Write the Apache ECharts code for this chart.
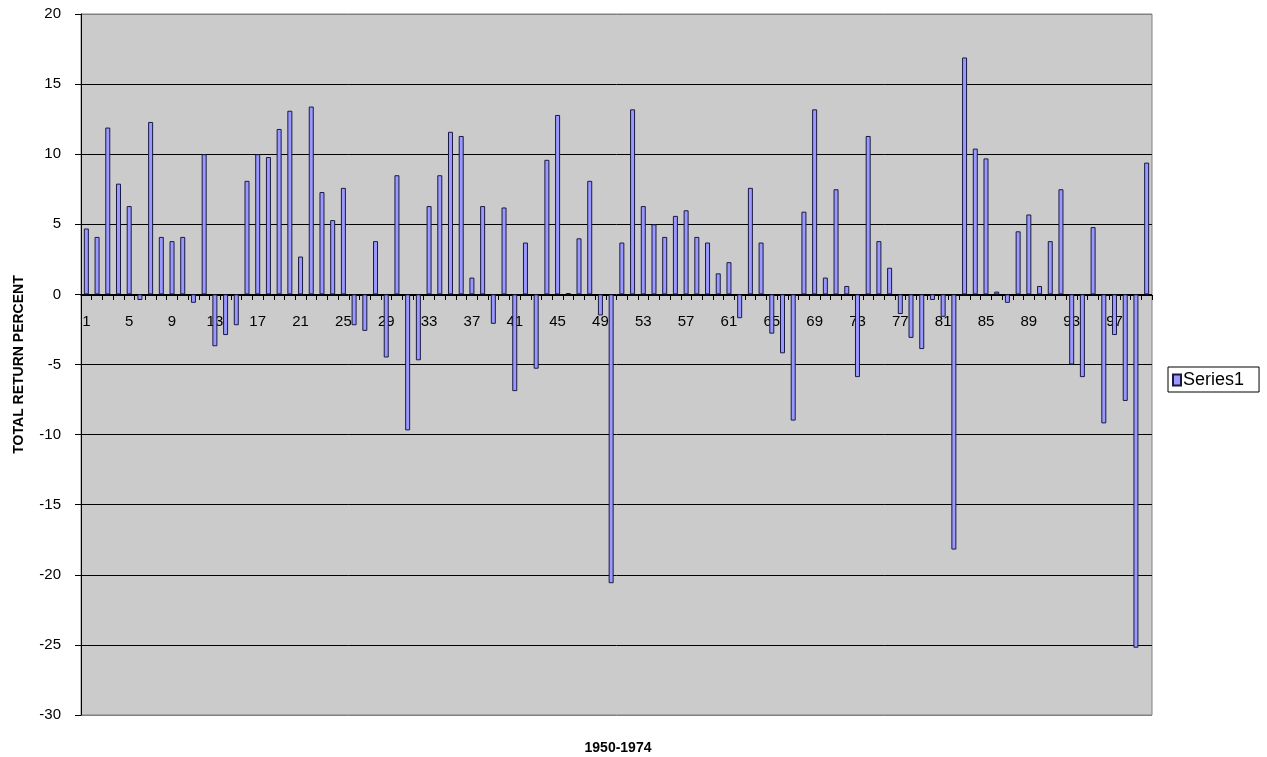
<!DOCTYPE html>
<html>
<head>
<meta charset="utf-8">
<script src="https://cdn.jsdelivr.net/npm/echarts@6/dist/echarts.min.js"></script>
<style>
  html, body { margin: 0; padding: 0; background: #fff; }
  #chart { width: 1267px; height: 757px; }
</style>
</head>
<body>
<div id="chart"></div>
<script>
// periods 1..100
var categories = [];
for (var i = 1; i <= 100; i++) categories.push(String(i));

var series1 = [
  4.7, 4.1, 11.9, 7.9, 6.3, -0.4, 12.3, 4.1, 3.8, 4.1,
  -0.6, 10.0, -3.7, -2.9, -2.2, 8.1, 10.0, 9.8, 11.8, 13.1,
  2.7, 13.4, 7.3, 5.3, 7.6, -2.2, -2.6, 3.8, -4.5, 8.5,
  -9.7, -4.7, 6.3, 8.5, 11.6, 11.3, 1.2, 6.3, -2.1, 6.2,
  -6.9, 3.7, -5.3, 9.6, 12.8, 0.1, 4.0, 8.1, -1.5, -20.6,
  3.7, 13.2, 6.3, 5.0, 4.1, 5.6, 6.0, 4.1, 3.7, 1.5,
  2.3, -1.7, 7.6, 3.7, -2.8, -4.2, -9.0, 5.9, 13.2, 1.2,
  7.5, 0.6, -5.9, 11.3, 3.8, 1.9, -1.4, -3.1, -3.9, -0.4,
  -1.6, -18.2, 16.9, 10.4, 9.7, 0.2, -0.6, 4.5, 5.7, 0.6,
  3.8, 7.5, -5.0, -5.9, 4.8, -9.2, -2.9, -7.6, -25.2, 9.4
];

var seriesName = 'Series1';
var xTitle = '1950-1974';
var yTitle = 'TOTAL RETURN PERCENT';

var chart = echarts.init(document.getElementById('chart'));
chart.setOption({
  animation: false,
  backgroundColor: '#ffffff',
  textStyle: { fontFamily: 'Arial, "Liberation Sans", sans-serif' },
  title: {
    text: xTitle,
    left: 613,
    top: 736,
    textAlign: 'center',
    textStyle: { fontSize: 14, fontWeight: 'bold', color: '#000' }
  },
  grid: {
    left: 81, right: 115, top: 14, bottom: 42,
    show: true,
    backgroundColor: '#cbcbcb',
    borderColor: '#808080',
    borderWidth: 1
  },
  legend: {
    data: [seriesName],
    orient: 'vertical',
    left: 1168,
    top: 367,
    itemWidth: 8,
    itemHeight: 11,
    itemGap: 0,
    padding: [4, 15, 3, 4],
    borderColor: '#000',
    borderWidth: 1,
    backgroundColor: '#fff',
    icon: 'rect',
    textStyle: { fontSize: 18, color: '#000', padding: [0, 0, 0, -3] }
  },
  xAxis: {
    type: 'category',
    data: categories,
    // pushed up onto the zero line
    offset: -420,
    axisLine: { onZero: false, lineStyle: { color: '#000', width: 1 } },
    axisTick: { show: true, interval: 0, length: 5, lineStyle: { color: '#000' } },
    axisLabel: { interval: 3, fontSize: 15, color: '#000', margin: 19 },
    splitLine: { show: false }
  },
  yAxis: {
    type: 'value',
    min: -30,
    max: 20,
    interval: 5,
    name: yTitle,
    nameLocation: 'middle',
    nameGap: 55,
    nameTextStyle: { fontSize: 14, fontWeight: 'bold', color: '#000' },
    axisLine: { show: true, lineStyle: { color: '#000' } },
    axisTick: { show: true, length: 6, lineStyle: { color: '#000' } },
    axisLabel: { fontSize: 15, color: '#000', margin: 20 },
    splitLine: {
      show: true,
      lineStyle: {
        color: ['#808080', '#000', '#000', '#000', '#000', '#000', '#000', '#000', '#000', '#000', '#808080'],
        width: 1
      }
    }
  },
  series: [{
    name: seriesName,
    type: 'bar',
    data: series1,
    barWidth: 5,
    itemStyle: { color: '#9999ff', borderColor: '#1a1a40', borderWidth: 1 }
  }]
});
</script>
</body>
</html>
